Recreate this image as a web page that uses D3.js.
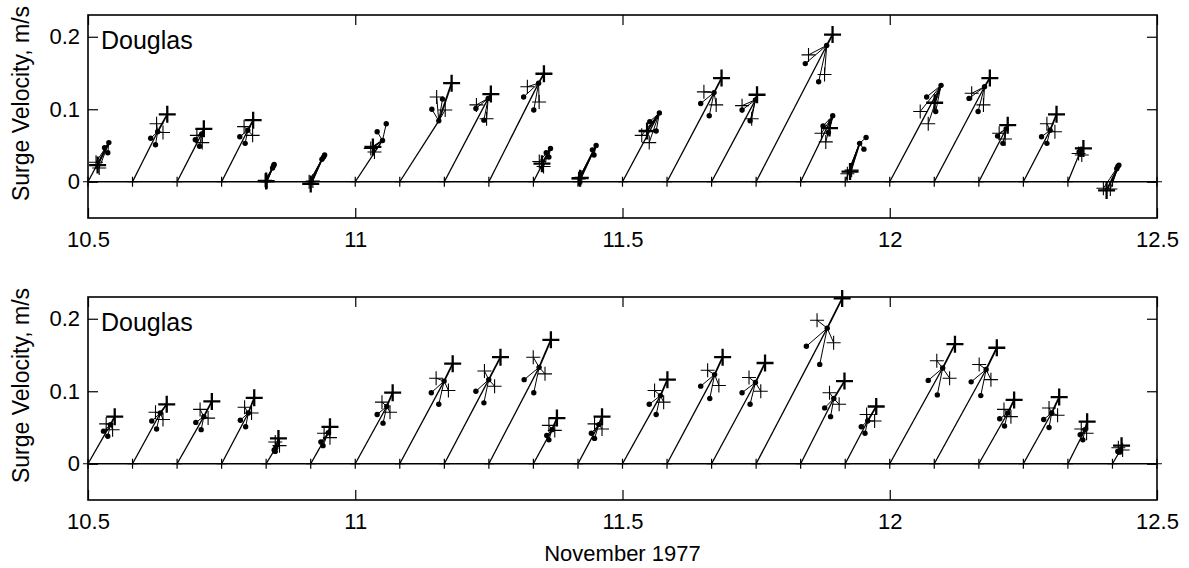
<!DOCTYPE html>
<html><head><meta charset="utf-8">
<script src="https://cdn.jsdelivr.net/npm/d3@7"></script>
<style>
body{margin:0;background:#fff}
svg{display:block}
text{font-family:"Liberation Sans",Arial,Helvetica,sans-serif;fill:#000}
</style>
</head><body>
<svg id="chart" width="1189" height="568"></svg>
<script>
// ---------- data ----------
const baseTimes = [10.5, 10.5833, 10.6667, 10.75, 10.8333, 10.9167, 11, 11.0833, 11.1667, 11.25,
  11.3333, 11.4167, 11.5, 11.5833, 11.6667, 11.75, 11.8333, 11.9167, 12, 12.0833,
  12.1667, 12.25, 12.3333, 12.4167, 12.5];
const xTicks = [10.5, 11, 11.5, 12, 12.5];
const yTicks = [0, 0.1, 0.2];
const stationName = "Douglas";
const yLabelText = "Surge Velocity, m/s";
const xLabelText = "November 1977";

// each entry: [time offset of marker (days), surge velocity (m/s)], one per base time
const topBig = [[.018,.023],[.065,.093],[.050,.073],[.059,.085],[.000,.001],[.000,-.003],[.033,.048],[.097,.136],
  [.087,.121],[.103,.149],[.016,.025],[.004,.005],[.046,.070],[.102,.143],[.085,.120],[.143,.203],
  [.054,.074],[.009,.014],[.084,.109],[.104,.143],[.054,.078],[.062,.093],[.029,.046],[-.011,-.012]];
const topPlusA = [[.015,.027],[.045,.080],[.037,.064],[.042,.076],[-.002,.002],[-.003,.000],[.029,.046],[.069,.117],
  [.060,.106],[.072,.131],[.011,.028],[.001,.004],[.036,.064],[.069,.124],[.057,.105],[.098,.175],
  [.039,.067],[.004,.011],[.057,.097],[.070,.122],[.038,.067],[.044,.080],[.020,.039],[-.017,-.009]];
const topPlusB = [[.021,.019],[.057,.068],[.047,.054],[.058,.064],[.002,.000],[.004,.001],[.036,.041],[.085,.099],
  [.079,.087],[.094,.110],[.019,.021],[.007,.006],[.050,.054],[.092,.106],[.075,.087],[.128,.148],
  [.047,.055],[.012,.016],[.072,.080],[.092,.106],[.049,.059],[.059,.069],[.026,.037],[-.004,-.010]];
const topDotA = [[.031,.047],[.034,.060],[.034,.058],[.034,.062],[.015,.024],[.024,.034],[.041,.069],[.060,.100],
  [.059,.101],[.065,.117],[.024,.040],[.027,.044],[.051,.083],[.063,.108],[.057,.099],[.092,.163],
  [.042,.077],[.039,.061],[.069,.117],[.065,.115],[.035,.063],[.034,.062],[.021,.041],[.010,.021]];
// observed tip (stick end), the hub the other markers connect to
const topDotB = [[.039,.054],[.047,.069],[.046,.066],[.049,.071],[.012,.019],[.021,.031],[.051,.057],[.073,.084],
  [.082,.115],[.093,.136],[.032,.046],[.034,.050],[.069,.095],[.088,.123],[.082,.113],[.132,.188],
  [.060,.091],[.027,.053],[.096,.133],[.094,.131],[.051,.073],[.050,.071],[.025,.045],[.012,.023]];
const topDotC = [[.037,.040],[.043,.051],[.042,.049],[.044,.053],[.014,.022],[.026,.037],[.058,.080],[.080,.114],
  [.074,.085],[.084,.099],[.029,.034],[.030,.037],[.063,.070],[.079,.091],[.072,.084],[.117,.138],
  [.052,.068],[.035,.045],[.086,.097],[.082,.097],[.045,.053],[.044,.053],[.023,.038],[.008,.018]];

const botBig = [[.050,.065],[.064,.082],[.065,.086],[.061,.091],[.023,.035],[.036,.051],[.070,.098],[.099,.138],
  [.105,.147],[.116,.171],[.044,.063],[.045,.065],[.084,.116],[.104,.147],[.100,.139],[.161,.228],
  [.082,.114],[.058,.079],[.122,.165],[.117,.160],[.066,.088],[.067,.092],[.036,.058],[.017,.025]];
const botPlusA = [[.034,.055],[.043,.071],[.043,.075],[.043,.078],[.017,.030],[.025,.042],[.050,.085],[.068,.118],
  [.075,.128],[.083,.147],[.029,.053],[.031,.055],[.060,.101],[.076,.129],[.070,.119],[.114,.198],
  [.054,.098],[.040,.068],[.088,.142],[.084,.137],[.047,.075],[.048,.077],[.025,.048],[.011,.022]];
const botPlusB = [[.046,.047],[.057,.061],[.058,.063],[.056,.070],[.025,.025],[.036,.036],[.065,.071],[.091,.101],
  [.094,.107],[.105,.124],[.040,.046],[.045,.048],[.077,.085],[.097,.108],[.092,.100],[.145,.167],
  [.072,.082],[.055,.059],[.112,.118],[.106,.116],[.060,.065],[.064,.067],[.035,.042],[.019,.019]];
const botDotA = [[.029,.045],[.036,.059],[.035,.057],[.035,.060],[.015,.019],[.019,.030],[.041,.068],[.059,.098],
  [.059,.100],[.066,.116],[.025,.039],[.025,.042],[.050,.082],[.063,.107],[.057,.098],[.094,.162],
  [.045,.077],[.030,.051],[.072,.115],[.069,.113],[.039,.062],[.038,.061],[.023,.040],[.010,.017]];
const botDotB = [[.042,.054],[.052,.070],[.050,.065],[.050,.070],[.018,.022],[.033,.043],[.059,.079],[.083,.114],
  [.083,.116],[.094,.133],[.035,.047],[.039,.054],[.071,.094],[.089,.123],[.082,.112],[.133,.187],
  [.062,.090],[.042,.059],[.099,.132],[.097,.130],[.054,.070],[.053,.070],[.032,.047],[.015,.019]];
const botDotC = [[.037,.038],[.045,.048],[.045,.047],[.045,.051],[.017,.017],[.023,.025],[.052,.056],[.073,.082],
  [.074,.084],[.084,.098],[.029,.033],[.031,.035],[.063,.068],[.080,.090],[.072,.082],[.119,.137],
  [.056,.065],[.037,.042],[.089,.095],[.087,.094],[.048,.052],[.048,.050],[.028,.033],[.013,.016]];

// ---------- drawing ----------
const svg = d3.select("#chart");
const W = 1189, H = 568;
svg.append("rect").attr("width", W).attr("height", H).attr("fill", "#fff");

const panels = [
  {top: 15, bottom: 218, big: topBig, plus: [topPlusA, topPlusB], hub: topDotB, dots: [topDotA, topDotB, topDotC]},
  {top: 297, bottom: 500, big: botBig, plus: [botPlusA, botPlusB], hub: botDotB, dots: [botDotA, botDotB, botDotC]}
];
const x = d3.scaleLinear().domain([10.5, 12.5]).range([88, 1157]);
const line = d3.line();

panels.forEach((p) => {
  const y = d3.scaleLinear().domain([-0.05, 0.23]).range([p.bottom, p.top]);
  const g = svg.append("g");
  const pt = (i, d) => [x(baseTimes[i] + d[0]), y(d[1])];

  // zero line
  g.append("path").attr("d", line([[x(10.5), y(0)], [x(12.5), y(0)]]))
    .attr("stroke", "#000").attr("stroke-width", 1.6).attr("fill", "none");

  // sticks: trunk from base to observed tip, spokes from tip to each other marker
  const segs = [];
  baseTimes.forEach((t, i) => {
    if (i >= p.hub.length) return;
    const hub = pt(i, p.hub[i]);
    segs.push({path: [[x(t), y(0)], hub], w: 1.3});
    segs.push({path: [hub, pt(i, p.big[i])], w: 1.8});
    p.plus.forEach(a => segs.push({path: [hub, pt(i, a[i])], w: 1.0}));
    [p.dots[0], p.dots[2]].forEach(a => segs.push({path: [hub, pt(i, a[i])], w: 1.0}));
  });
  g.selectAll(".stk").data(segs).join("path")
    .attr("d", d => line(d.path))
    .attr("stroke", "#000").attr("fill", "none")
    .attr("stroke-width", d => d.w);

  // base markers
  g.selectAll(".base").data(baseTimes).join("path")
    .attr("d", t => { const cx = x(t), cy = y(0); return `M${cx},${cy-5}V${cy+5}M${cx-5},${cy}H${cx+5}`; })
    .attr("stroke", "#000").attr("stroke-width", 1.2).attr("fill", "none");

  const plusPath = (c, r) => `M${c[0]-r},${c[1]}H${c[0]+r}M${c[0]},${c[1]-r}V${c[1]+r}`;
  p.plus.forEach(arr => {
    g.selectAll(null).data(arr).join("path")
      .attr("d", (d, i) => plusPath(pt(i, d), 7))
      .attr("stroke", "#000").attr("stroke-width", 1.1).attr("fill", "none");
  });
  g.selectAll(null).data(p.big).join("path")
    .attr("d", (d, i) => plusPath(pt(i, d), 8.5))
    .attr("stroke", "#000").attr("stroke-width", 2.3).attr("fill", "none");
  p.dots.forEach(arr => {
    g.selectAll(null).data(arr).join("circle")
      .attr("cx", (d, i) => pt(i, d)[0])
      .attr("cy", (d, i) => pt(i, d)[1])
      .attr("r", 2.7).attr("fill", "#000");
  });

  // axes (inward ticks)
  const axB = g.append("g").attr("transform", `translate(0,${p.bottom})`)
    .call(d3.axisBottom(x).tickValues(xTicks).tickSizeInner(-10).tickSizeOuter(0).tickPadding(13)
      .tickFormat(d3.format("")));
  const axT = g.append("g").attr("transform", `translate(0,${p.top})`)
    .call(d3.axisTop(x).tickValues(xTicks).tickSizeInner(-10).tickSizeOuter(0).tickFormat(""));
  const axL = g.append("g").attr("transform", `translate(${x(10.5)},0)`)
    .call(d3.axisLeft(y).tickValues(yTicks).tickSizeInner(-10).tickSizeOuter(0).tickPadding(8)
      .tickFormat(d3.format("")));
  const axR = g.append("g").attr("transform", `translate(${x(12.5)},0)`)
    .call(d3.axisRight(y).tickValues(yTicks).tickSizeInner(-10).tickSizeOuter(0).tickFormat(""));
  [axB, axT, axL, axR].forEach(a => {
    a.select(".domain").remove();
    a.selectAll(".tick line").attr("stroke", "#000").attr("stroke-width", 1.2);
    a.selectAll("text").attr("font-size", 22).attr("fill", "#000")
      .attr("font-family", '"Liberation Sans",Arial,sans-serif');
  });

  // box
  g.append("rect").attr("x", x(10.5)).attr("y", p.top)
    .attr("width", x(12.5) - x(10.5)).attr("height", p.bottom - p.top)
    .attr("fill", "none").attr("stroke", "#000").attr("stroke-width", 1.6);

  // station label
  g.append("text").attr("x", 101).attr("y", p.top + 34)
    .attr("font-size", 25).text(stationName);

  // y label
  g.append("text")
    .attr("transform", `translate(29,${(p.top + p.bottom) / 2 - 13}) rotate(-90)`)
    .attr("text-anchor", "middle").attr("font-size", 23).text(yLabelText);
});

svg.append("text").attr("x", (x(10.5) + x(12.5)) / 2).attr("y", 561)
  .attr("text-anchor", "middle").attr("font-size", 22).text(xLabelText);
</script>
</body></html>
